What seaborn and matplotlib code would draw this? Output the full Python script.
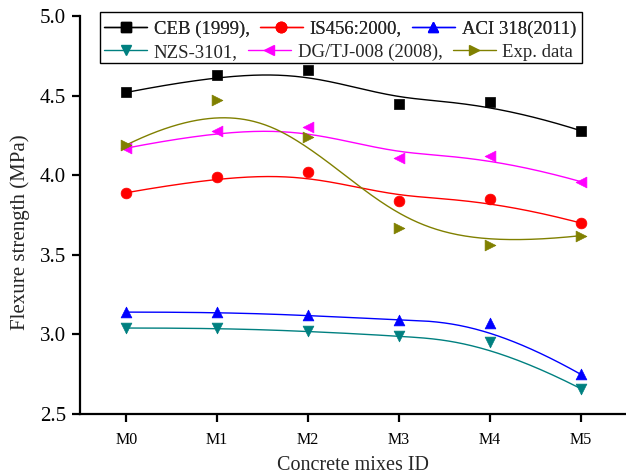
import numpy as np
import pandas as pd
import matplotlib
matplotlib.use("Agg")
import matplotlib.pyplot as plt
import seaborn as sns
from matplotlib.lines import Line2D
from matplotlib.patches import Rectangle

mixes = ["M0", "M1", "M2", "M3", "M4", "M5"]
ceb = [4.52, 4.63, 4.66, 4.45, 4.46, 4.28]
is456 = [3.89, 3.99, 4.02, 3.84, 3.85, 3.70]
aci = [3.14, 3.14, 3.12, 3.09, 3.07, 2.75]
nzs = [3.04, 3.04, 3.02, 2.99, 2.95, 2.66]
dg = [4.17, 4.28, 4.30, 4.11, 4.12, 3.96]
exp_data = [4.19, 4.47, 4.24, 3.67, 3.56, 3.62]

labels = ["CEB (1999),", "IS456:2000,", "ACI 318(2011)", "NZS-3101,", "DG/TJ-008 (2008),", "Exp. data"]
series = [ceb, is456, aci, nzs, dg, exp_data]
colors = ["#000000", "#FF0000", "#0000FF", "#008080", "#FF00FF", "#808000"]
markers = ["s", "o", "^", "v", "<", ">"]


def bspline(px, py, k=3, n=300):
    """Clamped uniform B-spline using the data points as control points."""
    px = np.asarray(px, float)
    py = np.asarray(py, float)
    m = len(px)
    inner = np.arange(1, m - k)
    t = np.concatenate([np.zeros(k + 1), inner, np.full(k + 1, m - k)]).astype(float)
    u = np.linspace(0, m - k - 1e-9, n)

    def basis(i, d, uu):
        if d == 0:
            return ((t[i] <= uu) & (uu < t[i + 1])).astype(float)
        a = np.zeros_like(uu)
        b = np.zeros_like(uu)
        if t[i + d] != t[i]:
            a = (uu - t[i]) / (t[i + d] - t[i]) * basis(i, d - 1, uu)
        if t[i + d + 1] != t[i + 1]:
            b = (t[i + d + 1] - uu) / (t[i + d + 1] - t[i + 1]) * basis(i + 1, d - 1, uu)
        return a + b

    N = np.array([basis(i, k, u) for i in range(m)])
    return N.T @ px, N.T @ py


sns.set_style("white")
plt.rcParams["font.family"] = ["Liberation Serif", "DejaVu Serif"]

W, H = 626, 475
fig = plt.figure(figsize=(W / 100, H / 100), dpi=100)
ax = fig.add_axes([80 / W, 1 - 414 / H, 546 / W, 398 / H])

x = np.arange(len(mixes))
for vals, lab, c, m in zip(series, labels, colors, markers):
    sx, sy = bspline(x, vals)
    smooth = pd.DataFrame({"x": sx, "y": sy})
    sns.lineplot(data=smooth, x="x", y="y", color=c, linewidth=1.0, ax=ax,
                 sort=False, estimator=None)
    pts = pd.DataFrame({"x": x, "y": vals})
    sns.scatterplot(data=pts, x="x", y="y", color=c, marker=m, s=60,
                    edgecolor=c, linewidth=0.5, ax=ax, zorder=3)

ax.set_xlim(-0.51, 5.5)
ax.set_ylim(2.5, 5.0)
ax.set_xticks(x)
ax.set_xticklabels(mixes, fontsize=11.5)
ax.set_yticks([2.5, 3.0, 3.5, 4.0, 4.5, 5.0])
ax.set_yticklabels(["2.5", "3.0", "3.5", "4.0", "4.5", "5.0"], fontsize=15)
ax.set_xlabel("Concrete mixes ID", fontsize=14.5)
ax.set_ylabel("Flexure strength (MPa)", fontsize=15)
ax.xaxis.set_label_coords(0.5, (414 - 456) / 398)
ax.yaxis.set_label_coords((30 - 80) / 546, (414 - 232) / 398)

for s in ["top", "right"]:
    ax.spines[s].set_visible(False)
for s in ["left", "bottom"]:
    ax.spines[s].set_color("black")
    ax.spines[s].set_linewidth(1.6)
ax.tick_params(axis="both", direction="out", length=6, width=1.6, colors="black",
               bottom=True, left=True, pad=4)
ax.tick_params(axis="x", pad=7)

handles = [Line2D([0], [0], color=c, marker=m, markersize=7.5, linewidth=1.0,
                  markeredgecolor=c) for c, m in zip(colors, markers)]
common = dict(ncol=3, loc="center left", fontsize=13.5, frameon=False,
              handlelength=2.3, handletextpad=0.35, columnspacing=0.55,
              borderpad=0, borderaxespad=0)
leg1 = fig.legend(handles[:3], labels[:3], bbox_to_anchor=(104 / W, 1 - 29 / H), **common)
leg2 = fig.legend(handles[3:], labels[3:], bbox_to_anchor=(104 / W, 1 - 52 / H), **common)
fig.add_artist(leg1)
frame = Rectangle((100 / W, 1 - 63 / H), 482 / W, 51 / H, transform=fig.transFigure,
                  fill=True, facecolor="white", edgecolor="black", linewidth=1.0, zorder=2)
fig.add_artist(frame)
leg1.set_zorder(5)
leg2.set_zorder(5)

fig.savefig("out.png", dpi=100)
